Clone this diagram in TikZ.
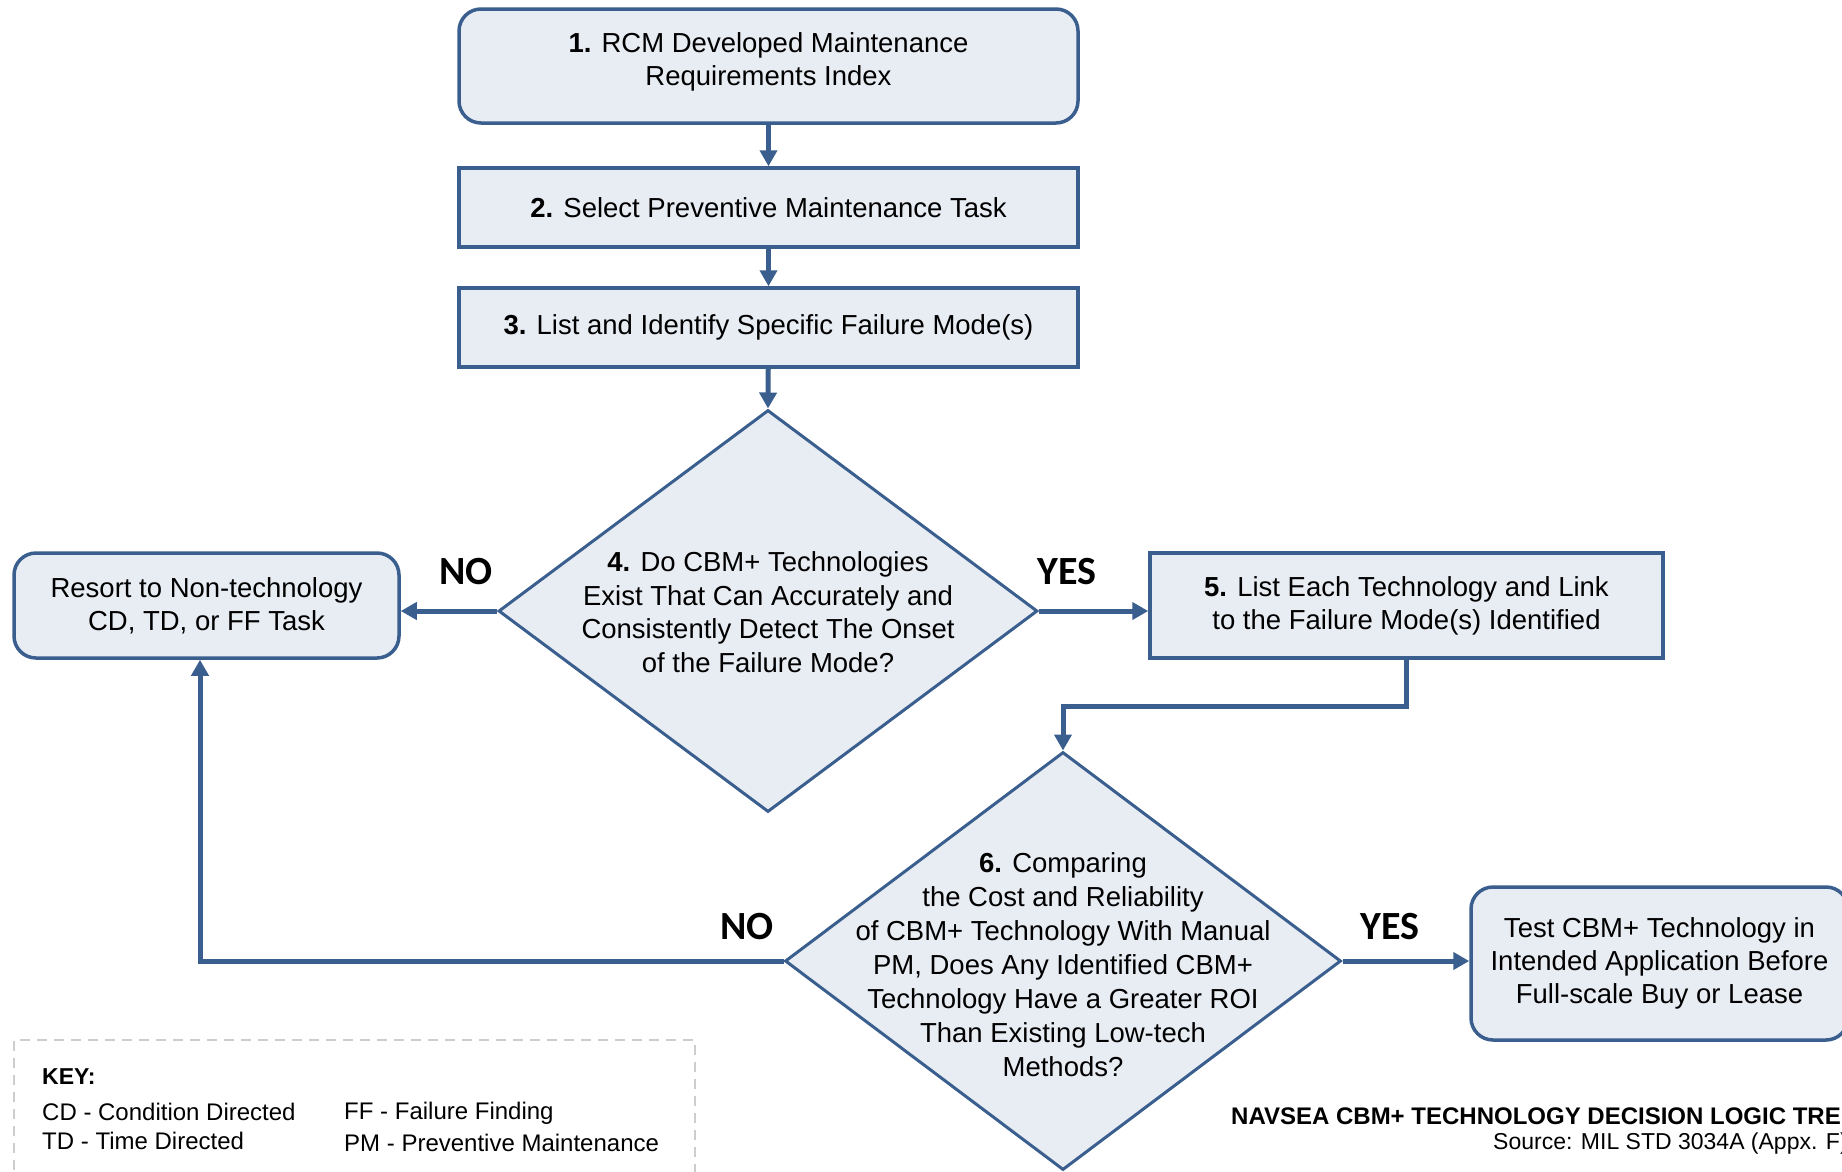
\documentclass[tikz,border=0pt]{standalone}
\usepackage{fontspec}
\setmainfont{Liberation Sans}
\newfontfamily\answerfont{Carlito}
\usetikzlibrary{shapes.geometric,arrows.meta}

\definecolor{edge}{RGB}{58,95,142}
\definecolor{panel}{RGB}{232,236,243}
\definecolor{keyline}{RGB}{205,205,205}

\tikzset{
  box/.style={draw=edge, fill=panel, line width=3.5pt, inner sep=0pt, align=center,
              font=\fontsize{27.5}{33}\selectfont},
  rbox/.style={box, rounded corners=22pt},
  decision/.style={diamond, draw=edge, fill=panel, line width=3pt, inner sep=0pt},
  qtext/.style={align=center, inner sep=0pt, font=\fontsize{27.5}{33.5}\selectfont},
  flow/.style={draw=edge, line width=5pt, -{Triangle[length=16pt,width=17pt]}},
  answer/.style={inner sep=0pt, font=\answerfont\bfseries\fontsize{40}{40}\selectfont},
  keytext/.style={anchor=west, inner sep=0pt, font=\fontsize{24}{24}\selectfont},
}

\begin{document}
\begin{tikzpicture}[x=1pt,y=-1pt]
\useasboundingbox (0,0) rectangle (1842,1171);
\clip (0,0) rectangle (1842,1171);

% process steps
\node[rbox, minimum width=619pt, minimum height=114pt] (b1) at (768.5,66) {};
\node[align=center, inner sep=0pt, font=\fontsize{27.5}{33}\selectfont] (b1text) at (768.5,62)
  {\textbf{1.} RCM Developed Maintenance\\Requirements Index};
\node[box, minimum width=619pt, minimum height=79pt] (b2) at (768.5,207.5)
  {\textbf{2.} Select Preventive Maintenance Task};
\node[box, minimum width=619pt, minimum height=79pt] (b3) at (768.5,327.5)
  {\textbf{3.} List and Identify Specific Failure Mode(s)};

% first decision
\node[decision, minimum width=539pt, minimum height=402pt,
      label={[qtext, yshift=-1pt]center:{\textbf{4.} Do CBM+ Technologies\\Exist That Can Accurately and\\Consistently Detect The Onset\\of the Failure Mode?}}]
  (d4) at (768,611) {};

\node[rbox, minimum width=385pt, minimum height=105pt] (resort) at (206.5,605.5)
  {Resort to Non-technology\\CD, TD, or FF Task};
\node[box, minimum width=513pt, minimum height=105pt] (b5) at (1406.5,605.5)
  {\textbf{5.} List Each Technology and Link\\to the Failure Mode(s) Identified};

% second decision
\node[decision, minimum width=556pt, minimum height=418pt,
      label={[qtext, yshift=-4pt, font=\fontsize{27.5}{34}\selectfont]center:{\textbf{6.} Comparing\\the Cost and Reliability\\of CBM+ Technology With Manual\\PM, Does Any Identified CBM+\\Technology Have a Greater ROI\\Than Existing Low-tech\\Methods?}}]
  (d6) at (1063,961) {};

\node[rbox, minimum width=377pt, minimum height=153pt] (test) at (1659.5,963.5)
  {Test CBM+ Technology in\\Intended Application Before\\Full-scale Buy or Lease};

% connectors
\draw[flow] (b1) -- (b2);
\draw[flow] (b2) -- (b3);
\draw[flow] (b3) -- (d4.north);
\draw[flow] (d4.west) -- (d4.west -| resort.east);
\draw[flow] (d4.east) -- (d4.east -| b5.west);
\draw[flow] (b5.south) -- ++(0,47) -| (d6.north);
\draw[flow] (d6.west) -| ([xshift=-6.5pt]resort.south);
\draw[flow] (d6.east) -- (d6.east -| test.west);

% answers
\node[answer] (no1) at (466,572) {NO};
\node[answer] (yes1) at (1067,572) {YES};
\node[answer] (no2) at (747,927) {NO};
\node[answer] (yes2) at (1390,927) {YES};

% key
\node[draw=keyline, line width=2pt, dash pattern=on 10pt off 7pt,
      minimum width=681pt, minimum height=150pt, inner sep=0pt] (key) at (354.5,1115) {};
\node[keytext, font=\bfseries\fontsize{23}{23}\selectfont] (keyhead) at (42,1077) {KEY:};
\node[keytext] (kcd) at (42,1112) {CD - Condition Directed};
\node[keytext] (ktd) at (42,1141) {TD - Time Directed};
\node[keytext] (kff) at (344,1113) {FF - Failure Finding};
\node[keytext] (kpm) at (344,1143) {PM - Preventive Maintenance};

% caption
\node[anchor=west, inner sep=0pt, font=\bfseries\fontsize{24}{24}\selectfont] (title) at (1231,1116)
  {NAVSEA CBM+ TECHNOLOGY DECISION LOGIC TREE};
\node[anchor=west, inner sep=0pt, font=\fontsize{23}{23}\selectfont] (source) at (1493,1144)
  {Source: MIL STD 3034A (Appx. F)};
\end{tikzpicture}
\end{document}
